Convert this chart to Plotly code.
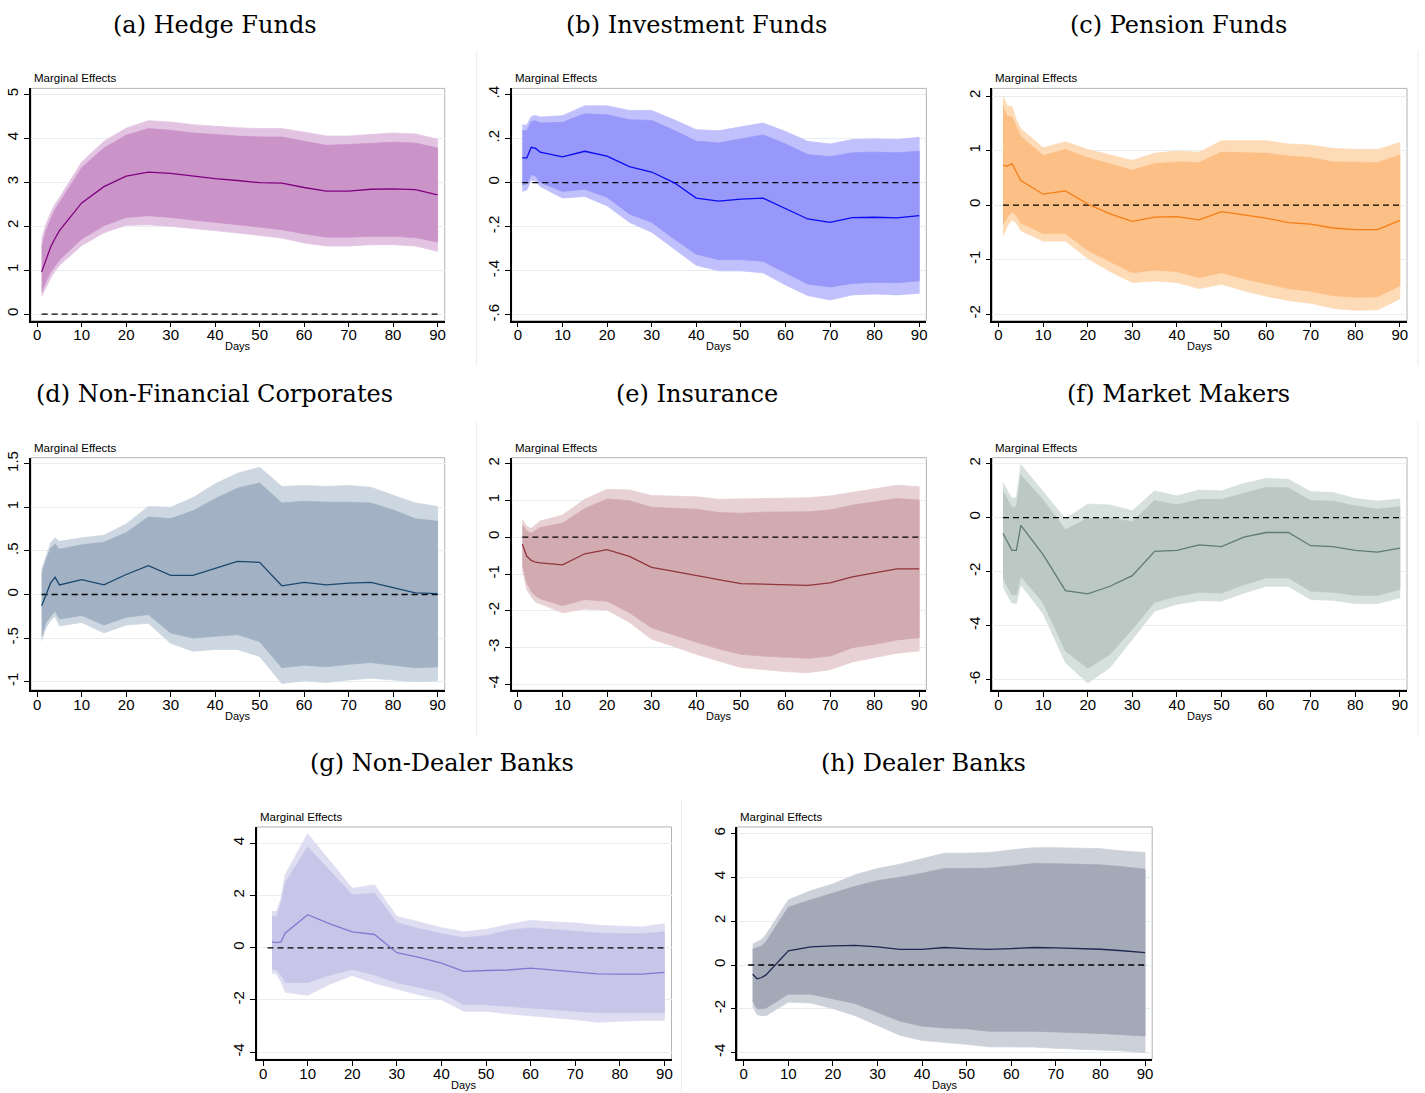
import plotly.graph_objects as go

W, H = 1425, 1093

days = [1, 2, 3, 4, 5, 10, 15, 20, 25, 30, 35, 40, 45, 50, 55, 60, 65, 70, 75, 80, 85, 90]
days_bank = [2, 3, 4, 5, 10, 15, 20, 25, 30, 35, 40, 45, 50, 55, 60, 65, 70, 75, 80, 85, 90]

# (a) Hedge Funds
hf_mean = [0.96, 1.25, 1.52, 1.72, 1.90, 2.53, 2.90, 3.14, 3.23, 3.20, 3.14, 3.08, 3.04, 2.99, 2.98, 2.88, 2.80, 2.80, 2.84, 2.85, 2.83, 2.71]
hf_hi90 = [1.53, 1.90, 2.15, 2.38, 2.54, 3.33, 3.78, 4.07, 4.22, 4.18, 4.12, 4.08, 4.05, 4.03, 4.03, 3.93, 3.84, 3.86, 3.89, 3.91, 3.89, 3.78]
hf_hi95 = [1.71, 2.05, 2.30, 2.50, 2.65, 3.46, 3.93, 4.23, 4.40, 4.37, 4.31, 4.27, 4.24, 4.22, 4.22, 4.14, 4.05, 4.05, 4.09, 4.12, 4.10, 3.98]
hf_lo90 = [0.51, 0.75, 0.95, 1.10, 1.23, 1.71, 2.01, 2.20, 2.24, 2.20, 2.14, 2.09, 2.04, 1.98, 1.92, 1.83, 1.75, 1.75, 1.77, 1.77, 1.74, 1.64]
hf_lo95 = [0.40, 0.62, 0.82, 0.98, 1.11, 1.56, 1.85, 2.02, 2.03, 2.00, 1.95, 1.90, 1.85, 1.79, 1.73, 1.62, 1.55, 1.55, 1.58, 1.58, 1.55, 1.43]

# (b) Investment Funds
if_mean = [0.112, 0.112, 0.160, 0.155, 0.138, 0.117, 0.142, 0.120, 0.072, 0.048, 0.000, -0.070, -0.084, -0.075, -0.070, -0.117, -0.165, -0.180, -0.159, -0.157, -0.160, -0.150]
if_hi90 = [0.235, 0.235, 0.277, 0.280, 0.270, 0.273, 0.312, 0.307, 0.285, 0.282, 0.237, 0.187, 0.180, 0.198, 0.216, 0.175, 0.127, 0.117, 0.135, 0.138, 0.135, 0.142]
if_hi95 = [0.262, 0.260, 0.300, 0.304, 0.297, 0.303, 0.348, 0.348, 0.327, 0.327, 0.285, 0.240, 0.235, 0.252, 0.270, 0.232, 0.187, 0.175, 0.195, 0.198, 0.195, 0.205]
if_lo90 = [-0.012, -0.005, 0.037, 0.030, 0.000, -0.040, -0.030, -0.067, -0.142, -0.180, -0.255, -0.325, -0.349, -0.349, -0.357, -0.409, -0.460, -0.473, -0.457, -0.452, -0.454, -0.445]
if_lo95 = [-0.040, -0.033, 0.012, 0.007, -0.018, -0.070, -0.063, -0.105, -0.180, -0.225, -0.300, -0.375, -0.400, -0.400, -0.409, -0.464, -0.512, -0.532, -0.509, -0.505, -0.509, -0.502]

# (c) Pension Funds
pf_mean = [0.73, 0.715, 0.76, 0.61, 0.45, 0.20, 0.26, 0.02, -0.16, -0.30, -0.22, -0.21, -0.27, -0.12, -0.18, -0.24, -0.32, -0.35, -0.42, -0.45, -0.45, -0.28]
pf_hi90 = [1.81, 1.62, 1.62, 1.44, 1.26, 0.91, 1.02, 0.87, 0.75, 0.64, 0.76, 0.79, 0.78, 0.97, 0.96, 0.95, 0.90, 0.87, 0.79, 0.78, 0.78, 0.92]
pf_hi95 = [2.00, 1.81, 1.81, 1.56, 1.40, 1.05, 1.16, 1.02, 0.92, 0.82, 0.95, 0.99, 0.97, 1.18, 1.18, 1.18, 1.12, 1.10, 1.04, 1.02, 1.02, 1.15]
pf_lo90 = [-0.35, -0.22, -0.12, -0.19, -0.33, -0.52, -0.52, -0.83, -1.04, -1.24, -1.19, -1.22, -1.33, -1.24, -1.35, -1.44, -1.53, -1.58, -1.66, -1.69, -1.68, -1.48]
pf_lo95 = [-0.57, -0.38, -0.27, -0.33, -0.47, -0.66, -0.66, -0.98, -1.22, -1.42, -1.39, -1.42, -1.53, -1.45, -1.57, -1.67, -1.75, -1.80, -1.89, -1.93, -1.92, -1.72]

# (d) Non-Financial Corporates
nf_mean = [-0.13, 0.00, 0.13, 0.20, 0.11, 0.17, 0.11, 0.23, 0.33, 0.22, 0.22, 0.30, 0.38, 0.37, 0.10, 0.14, 0.11, 0.13, 0.14, 0.08, 0.02, 0.01]
nf_hi90 = [0.23, 0.40, 0.53, 0.58, 0.52, 0.57, 0.60, 0.71, 0.89, 0.87, 0.96, 1.10, 1.22, 1.28, 1.05, 1.07, 1.06, 1.06, 1.05, 0.97, 0.87, 0.84]
nf_hi95 = [0.29, 0.44, 0.59, 0.65, 0.61, 0.65, 0.68, 0.81, 1.01, 1.00, 1.11, 1.27, 1.39, 1.46, 1.24, 1.25, 1.24, 1.25, 1.23, 1.14, 1.05, 1.01]
nf_lo90 = [-0.48, -0.32, -0.25, -0.19, -0.28, -0.24, -0.35, -0.26, -0.23, -0.44, -0.50, -0.48, -0.46, -0.54, -0.84, -0.81, -0.83, -0.80, -0.78, -0.81, -0.84, -0.83]
nf_lo95 = [-0.53, -0.38, -0.30, -0.25, -0.36, -0.32, -0.44, -0.35, -0.33, -0.56, -0.65, -0.63, -0.63, -0.71, -1.02, -0.99, -1.01, -0.98, -0.96, -0.98, -1.00, -0.99]

# (e) Insurance
in_mean = [-0.19, -0.52, -0.63, -0.68, -0.70, -0.75, -0.45, -0.34, -0.52, -0.82, -0.93, -1.05, -1.15, -1.26, -1.28, -1.29, -1.31, -1.24, -1.08, -0.97, -0.86, -0.86]
in_hi90 = [0.33, 0.17, 0.11, 0.18, 0.26, 0.38, 0.78, 1.04, 0.99, 0.81, 0.78, 0.76, 0.67, 0.65, 0.68, 0.69, 0.69, 0.74, 0.87, 0.96, 1.05, 1.01]
in_hi95 = [0.49, 0.29, 0.24, 0.33, 0.44, 0.60, 1.03, 1.30, 1.28, 1.13, 1.12, 1.10, 1.03, 1.04, 1.05, 1.08, 1.07, 1.12, 1.22, 1.32, 1.41, 1.37]
in_lo90 = [-0.75, -1.24, -1.47, -1.60, -1.67, -1.86, -1.69, -1.74, -2.05, -2.46, -2.66, -2.85, -3.03, -3.18, -3.23, -3.27, -3.29, -3.23, -3.00, -2.91, -2.79, -2.73]
in_lo95 = [-0.88, -1.42, -1.62, -1.77, -1.81, -2.05, -1.95, -1.98, -2.31, -2.77, -2.97, -3.18, -3.36, -3.54, -3.60, -3.65, -3.68, -3.60, -3.39, -3.27, -3.15, -3.09]

# (f) Market Makers
mm_mean = [-0.58, -0.88, -1.21, -1.21, -0.29, -1.37, -2.70, -2.82, -2.54, -2.15, -1.25, -1.21, -1.01, -1.07, -0.72, -0.55, -0.55, -1.04, -1.07, -1.21, -1.28, -1.13]
mm_hi90 = [0.99, 0.67, 0.38, 0.40, 1.57, 0.65, -0.45, -0.02, -0.02, -0.15, 0.63, 0.47, 0.67, 0.67, 0.90, 1.12, 1.10, 0.63, 0.61, 0.43, 0.31, 0.40]
mm_hi95 = [1.29, 1.02, 0.71, 0.74, 1.96, 0.96, -0.05, 0.50, 0.47, 0.25, 0.99, 0.80, 1.02, 0.99, 1.26, 1.45, 1.42, 0.96, 0.93, 0.71, 0.61, 0.69]
mm_lo90 = [-2.23, -2.56, -2.85, -2.85, -2.17, -3.15, -4.93, -5.58, -5.06, -4.13, -3.13, -2.91, -2.76, -2.79, -2.48, -2.23, -2.23, -2.72, -2.76, -2.87, -2.87, -2.66]
mm_lo95 = [-2.54, -2.88, -3.15, -3.18, -2.48, -3.56, -5.36, -6.12, -5.55, -4.50, -3.46, -3.21, -3.07, -3.09, -2.79, -2.54, -2.54, -3.03, -3.06, -3.18, -3.18, -2.97]

# (g) Non-Dealer Banks
nd_mean = [0.23, 0.20, 0.23, 0.57, 1.27, 0.92, 0.61, 0.51, -0.19, -0.37, -0.59, -0.90, -0.87, -0.85, -0.78, -0.85, -0.92, -1.00, -1.01, -1.01, -0.94]
nd_hi90 = [1.20, 1.20, 1.68, 2.51, 3.86, 2.95, 2.03, 2.09, 0.96, 0.73, 0.54, 0.38, 0.46, 0.67, 0.76, 0.70, 0.63, 0.57, 0.54, 0.54, 0.61]
nd_hi95 = [1.39, 1.39, 1.87, 2.82, 4.37, 3.33, 2.28, 2.41, 1.20, 0.99, 0.77, 0.61, 0.70, 0.89, 1.05, 0.99, 0.95, 0.86, 0.82, 0.80, 0.92]
nd_lo90 = [-0.81, -0.85, -1.04, -1.33, -1.33, -1.04, -0.82, -1.04, -1.33, -1.51, -1.71, -2.18, -2.18, -2.24, -2.30, -2.37, -2.43, -2.49, -2.49, -2.49, -2.49]
nd_lo95 = [-0.97, -1.01, -1.29, -1.70, -1.82, -1.39, -1.06, -1.35, -1.58, -1.80, -1.99, -2.43, -2.43, -2.53, -2.62, -2.68, -2.75, -2.85, -2.81, -2.78, -2.78]

# (h) Dealer Banks
db_mean = [-0.42, -0.63, -0.57, -0.45, 0.65, 0.83, 0.87, 0.90, 0.83, 0.71, 0.71, 0.80, 0.75, 0.71, 0.75, 0.80, 0.78, 0.75, 0.72, 0.65, 0.57]
db_hi90 = [0.72, 0.78, 0.87, 1.06, 2.64, 2.97, 3.27, 3.59, 3.85, 4.00, 4.19, 4.40, 4.40, 4.42, 4.52, 4.63, 4.62, 4.60, 4.57, 4.48, 4.37]
db_hi95 = [0.95, 1.06, 1.16, 1.39, 2.97, 3.39, 3.70, 4.12, 4.40, 4.60, 4.86, 5.10, 5.10, 5.13, 5.25, 5.35, 5.35, 5.32, 5.31, 5.20, 5.13]
db_lo90 = [-1.63, -2.00, -2.00, -1.96, -1.33, -1.33, -1.54, -1.76, -2.16, -2.56, -2.79, -2.87, -2.91, -3.02, -3.02, -3.02, -3.05, -3.09, -3.12, -3.17, -3.24]
db_lo95 = [-1.89, -2.26, -2.31, -2.31, -1.69, -1.73, -1.99, -2.31, -2.75, -3.20, -3.44, -3.54, -3.62, -3.73, -3.73, -3.74, -3.80, -3.85, -3.88, -3.92, -4.00]

x_ticks = [0, 10, 20, 30, 40, 50, 60, 70, 80, 90]

panels = [
    dict(title="(a) Hedge Funds", x=days, m=hf_mean, h9=hf_hi90, h5=hf_hi95, l9=hf_lo90, l5=hf_lo95,
         yt=[0, 1, 2, 3, 4, 5], ytt=["0", "1", "2", "3", "4", "5"], yr=[-0.15, 5.135],
         box=(31, 82, 445, 316), tc=215,
         c_out="rgb(226,196,226)", c_in="rgb(203,148,201)", c_line="rgb(128,0,128)"),
    dict(title="(b) Investment Funds", x=days, m=if_mean, h9=if_hi90, h5=if_hi95, l9=if_lo90, l5=if_lo95,
         yt=[-0.6, -0.4, -0.2, 0, 0.2, 0.4], ytt=["-.6", "-.4", "-.2", "0", ".2", ".4"], yr=[-0.626, 0.427],
         box=(512, 82, 927, 316), tc=697,
         c_out="rgb(192,192,252)", c_in="rgb(152,152,250)", c_line="rgb(10,10,245)"),
    dict(title="(c) Pension Funds", x=days, m=pf_mean, h9=pf_hi90, h5=pf_hi95, l9=pf_lo90, l5=pf_lo95,
         yt=[-2, -1, 0, 1, 2], ytt=["-2", "-1", "0", "1", "2"], yr=[-2.12, 2.14],
         box=(993, 82, 1408, 316), tc=1179,
         c_out="rgb(254,219,183)", c_in="rgb(252,191,133)", c_line="rgb(245,125,20)"),
    dict(title="(d) Non-Financial Corporates", x=days, m=nf_mean, h9=nf_hi90, h5=nf_hi95, l9=nf_lo90, l5=nf_lo95,
         yt=[-1, -0.5, 0, 0.5, 1, 1.5], ytt=["-1", "-.5", "0", ".5", "1", "1.5"], yr=[-1.095, 1.57],
         box=(31, 454, 445, 688), tc=215,
         c_out="rgb(205,215,225)", c_in="rgb(162,178,196)", c_line="rgb(26,71,111)"),
    dict(title="(e) Insurance", x=days, m=in_mean, h9=in_hi90, h5=in_hi95, l9=in_lo90, l5=in_lo95,
         yt=[-4, -3, -2, -1, 0, 1, 2], ytt=["-4", "-3", "-2", "-1", "0", "1", "2"], yr=[-4.15, 2.16],
         box=(512, 454, 927, 688), tc=697,
         c_out="rgb(232,209,212)", c_in="rgb(210,171,176)", c_line="rgb(144,53,59)"),
    dict(title="(f) Market Makers", x=days, m=mm_mean, h9=mm_hi90, h5=mm_hi95, l9=mm_lo90, l5=mm_lo95,
         yt=[-6, -4, -2, 0, 2], ytt=["-6", "-4", "-2", "0", "2"], yr=[-6.38, 2.22],
         box=(993, 454, 1408, 688), tc=1179,
         c_out="rgb(214,224,220)", c_in="rgb(187,200,195)", c_line="rgb(95,125,110)"),
    dict(title="(g) Non-Dealer Banks", x=days_bank, m=nd_mean, h9=nd_hi90, h5=nd_hi95, l9=nd_lo90, l5=nd_lo95,
         yt=[-4, -2, 0, 2, 4], ytt=["-4", "-2", "0", "2", "4"], yr=[-4.27, 4.63],
         box=(257, 826, 672, 1060), tc=442,
         c_out="rgb(223,221,242)", c_in="rgb(200,198,232)", c_line="rgb(130,120,210)"),
    dict(title="(h) Dealer Banks", x=days_bank, m=db_mean, h9=db_hi90, h5=db_hi95, l9=db_lo90, l5=db_lo95,
         yt=[-4, -2, 0, 2, 4, 6], ytt=["-4", "-2", "0", "2", "4", "6"], yr=[-4.30, 6.30],
         box=(738, 826, 1153, 1060), tc=924,
         c_out="rgb(205,209,217)", c_in="rgb(164,169,184)", c_line="rgb(30,40,80)"),
]


def px(x):
    return x / W


def py(y):
    return 1 - y / H


fig = go.Figure()
annotations = []
shapes = []
layout_axes = {}

for i, p in enumerate(panels, start=1):
    xa = f"x{i}" if i > 1 else "x"
    ya = f"y{i}" if i > 1 else "y"
    x0, y0, x1, y1 = p["box"]
    xs = p["x"]
    # outer (95%) band
    fig.add_trace(go.Scatter(x=xs + xs[::-1], y=p["h5"] + p["l5"][::-1], fill="toself",
                             fillcolor=p["c_out"], line=dict(color=p["c_out"], width=0.8),
                             mode="lines", hoverinfo="skip", showlegend=False, xaxis=xa, yaxis=ya))
    # inner (90%) band
    fig.add_trace(go.Scatter(x=xs + xs[::-1], y=p["h9"] + p["l9"][::-1], fill="toself",
                             fillcolor=p["c_in"], line=dict(color=p["c_in"], width=0.8),
                             mode="lines", hoverinfo="skip", showlegend=False, xaxis=xa, yaxis=ya))
    # zero reference
    fig.add_trace(go.Scatter(x=[1, 90], y=[0, 0], mode="lines",
                             line=dict(color="black", width=1.3, dash="6px,4px"),
                             hoverinfo="skip", showlegend=False, xaxis=xa, yaxis=ya))
    # point estimate
    fig.add_trace(go.Scatter(x=xs, y=p["m"], mode="lines",
                             line=dict(color=p["c_line"], width=1.3),
                             showlegend=False, xaxis=xa, yaxis=ya))

    key = "" if i == 1 else str(i)
    layout_axes[f"xaxis{key}"] = dict(
        domain=[px(x0), px(x1)], anchor=ya, range=[-1.4, 91.6],
        tickvals=x_ticks, ticks="outside", ticklen=5, tickwidth=1, tickcolor="black",
        ticklabelstandoff=-5,
        showline=True, linecolor="black", linewidth=1.5, showgrid=False, zeroline=False,
        tickfont=dict(family="Liberation Sans, Arial", size=15, color="black"))
    layout_axes[f"yaxis{key}"] = dict(
        domain=[py(y1), py(y0)], anchor=xa, range=p["yr"],
        tickvals=p["yt"], ticktext=p["ytt"], tickangle=-90,
        ticks="outside", ticklen=5, tickwidth=1, tickcolor="black",
        showline=True, linecolor="black", linewidth=1.5,
        showgrid=True, gridcolor="#e6eef0", gridwidth=1, zeroline=False,
        tickfont=dict(family="Liberation Sans, Arial", size=15, color="black"))

    # light frame around plot region
    shapes.append(dict(type="rect", xref="paper", yref="paper",
                       x0=px(x0), x1=px(x1), y0=py(y1), y1=py(y0),
                       line=dict(color="#b4b4b4", width=1), layer="below"))

    annotations.append(dict(text=p["title"], x=px(p["tc"]), y=py(y0 - 64), xref="paper", yref="paper",
                            showarrow=False, xanchor="center", yanchor="middle",
                            font=dict(family="DejaVu Serif, serif", size=24, color="black")))
    annotations.append(dict(text="Marginal Effects", x=px(x0 + 1), y=py(y0 - 10), xref="paper", yref="paper",
                            showarrow=False, xanchor="left", yanchor="middle",
                            font=dict(family="Liberation Sans, Arial", size=11.5, color="black")))
    annotations.append(dict(text="Days", x=px((x0 + x1) / 2), y=py(y1 + 26), xref="paper", yref="paper",
                            showarrow=False, xanchor="center", yanchor="middle",
                            font=dict(family="Liberation Sans, Arial", size=11, color="black")))

# faint separators between the individual graph images
for (sx, sy0, sy1) in [(477, 45, 362), (1419, 45, 362), (477, 418, 735), (1419, 418, 735), (682, 798, 1093)]:
    shapes.append(dict(type="line", xref="paper", yref="paper", x0=px(sx), x1=px(sx),
                       y0=py(sy1), y1=py(sy0), line=dict(color="#ececec", width=1)))

fig.update_layout(width=W, height=H, margin=dict(l=0, r=0, t=0, b=0),
                  paper_bgcolor="white", plot_bgcolor="white",
                  showlegend=False, annotations=annotations, shapes=shapes, **layout_axes)

fig.write_html("out.html", config={"displayModeBar": False},
               post_script="document.body.style.margin='0';document.body.style.overflow='hidden';")
